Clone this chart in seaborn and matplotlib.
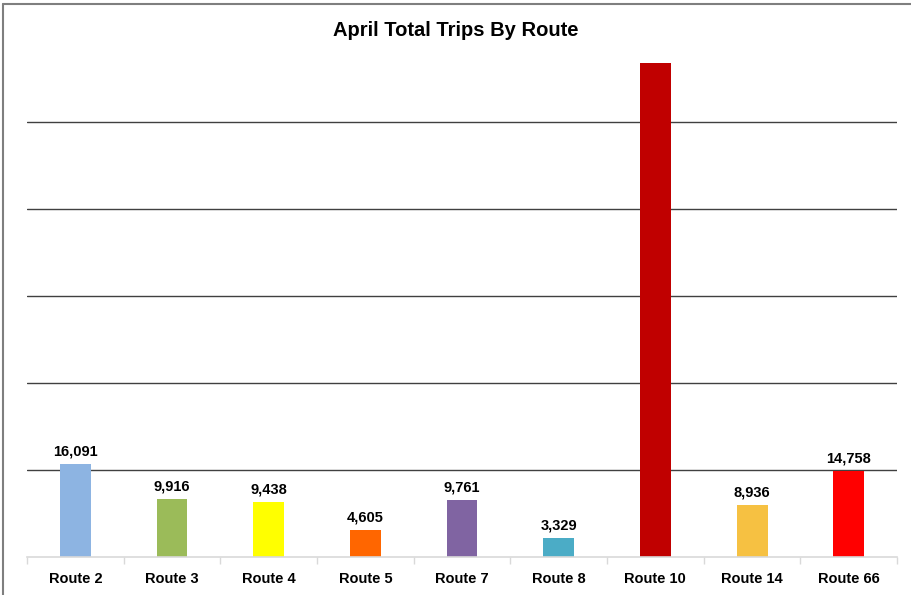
import matplotlib
matplotlib.use('Agg')
import matplotlib.pyplot as plt
import seaborn as sns
import pandas as pd
from matplotlib.lines import Line2D

# April trips per route (route 10 value, it has no label)
routes = ['Route 2', 'Route 3', 'Route 4', 'Route 5', 'Route 7',
          'Route 8', 'Route 10', 'Route 14', 'Route 66']
trips = [16091, 9916, 9438, 4605, 9761, 3329, 85160, 8936, 14758]
show_label = [True, True, True, True, True, True, False, True, True]
colors = ['#8DB4E2', '#9BBB59', '#FFFF00', '#FF6600', '#8064A2',
          '#4BACC6', '#C00000', '#F6C142', '#FF0000']

df = pd.DataFrame({'route': routes, 'trips': trips})

sns.set_style('white')
plt.rcParams['font.family'] = ['Liberation Sans', 'DejaVu Sans']
plt.rcParams['text.color'] = 'black'
plt.rcParams['xtick.color'] = 'black'

fig = plt.figure(figsize=(9.12, 5.95), dpi=100)
ax = fig.add_axes([0.0296, 0.0639, 0.954, 0.878])

sns.barplot(data=df, x='route', y='trips', hue='route', palette=colors,
            legend=False, width=0.32, saturation=1, linewidth=0, ax=ax)

ax.set_ylim(0, 90000)
ax.set_xlim(-0.5, len(routes) - 0.5)
ax.set_yticks(range(15000, 90000, 15000))
ax.yaxis.grid(True, color='#404040', linewidth=1)
ax.set_axisbelow(True)
ax.tick_params(axis='y', left=False, labelleft=False)
ax.set_xlabel('')
ax.set_ylabel('')

for s in ['top', 'right', 'left']:
    ax.spines[s].set_visible(False)
ax.spines['bottom'].set_color('#d9d9d9')
ax.spines['bottom'].set_linewidth(1.2)

# category ticks sit between bars, labels stay centred
ax.set_xticks(range(len(routes)))
ax.set_xticklabels(routes, fontsize=10.5, fontweight='bold', color='black')
ax.set_xticks([i + 0.5 for i in range(-1, len(routes))], minor=True)
ax.tick_params(axis='x', which='minor', bottom=True, length=5, color='#d9d9d9',
               width=1, direction='out')
ax.tick_params(axis='x', which='major', bottom=False, length=0, pad=11)

for i, (v, ok) in enumerate(zip(trips, show_label)):
    if ok:
        ax.annotate(f'{v:,}', (i, v), xytext=(0, 4), textcoords='offset points',
                    ha='center', va='bottom', fontsize=10.5, fontweight='bold',
                    color='black')

fig.suptitle('April Total Trips By Route', fontsize=14.5, fontweight='bold',
             y=0.965, color='black')

# outer chart frame (top and left edges)
fig.add_artist(Line2D([0.0035, 1.0], [0.994, 0.994], color='#7f7f7f', linewidth=1.5, transform=fig.transFigure))
fig.add_artist(Line2D([0.0035, 0.0035], [0.0, 0.994], color='#7f7f7f', linewidth=1.5, transform=fig.transFigure))

fig.savefig('out.png', dpi=100)
